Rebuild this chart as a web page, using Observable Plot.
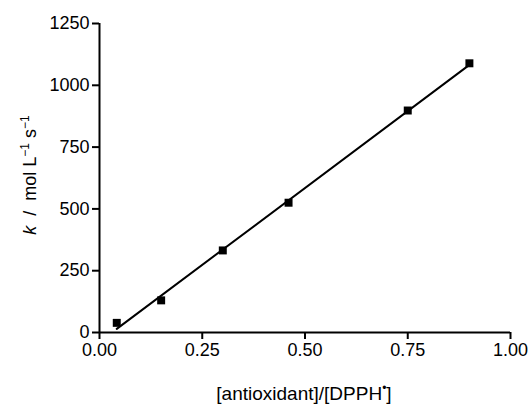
<!DOCTYPE html>
<html>
<head>
<meta charset="utf-8">
<script src="https://cdn.jsdelivr.net/npm/d3@7"></script>
<script src="https://cdn.jsdelivr.net/npm/@observablehq/plot@0.6"></script>
<style>
  html, body { margin: 0; padding: 0; background: #fff; }
  #chart svg { display: block; }
</style>
</head>
<body>
<div id="chart"></div>
<script>
// Data
const ratios = [0.042, 0.15, 0.30, 0.46, 0.75, 0.90];
const kValues = [39, 130, 332, 525, 898, 1089];
const xTicks = [0, 0.25, 0.5, 0.75, 1.0];
const yTicks = [0, 250, 500, 750, 1000, 1250];

const data = ratios.map((r, i) => ({ratio: r, k: kValues[i]}));

const font = "'Liberation Sans', Arial, Helvetica, sans-serif";

const svg = Plot.plot({
  width: 528,
  height: 405,
  marginLeft: 99,
  marginRight: 18,
  marginTop: 23,
  marginBottom: 73,
  style: {fontFamily: font, fontSize: "18px", color: "black", background: "white"},
  x: {domain: [0, 1]},
  y: {domain: [0, 1250]},
  marks: [
    Plot.ruleY([0], {stroke: "black", strokeWidth: 2}),
    Plot.ruleX([0], {stroke: "black", strokeWidth: 2}),
    Plot.axisX({ticks: xTicks, tickFormat: d3.format(".2f"), tickSize: 7, tickPadding: 4, strokeWidth: 2, label: null}),
    Plot.axisY({ticks: yTicks, tickFormat: d => String(d), tickSize: 7, tickPadding: 3, strokeWidth: 2, label: null}),
    Plot.linearRegressionY(data, {x: "ratio", y: "k", ci: 0, stroke: "black", strokeWidth: 2}),
    Plot.dot(data, {x: "ratio", y: "k", symbol: "square", r: 4.5, fill: "black", stroke: null})
  ]
});

document.getElementById("chart").appendChild(svg);

const s = d3.select(svg);

// y-axis label: k / mol L^-1 s^-1
const yl = s.append("text")
  .attr("transform", "translate(36,175) rotate(-90)")
  .attr("text-anchor", "middle")
  .attr("font-family", font)
  .attr("font-size", 18)
  .attr("fill", "black");
yl.append("tspan").attr("font-style", "italic").text("k");
yl.append("tspan").attr("xml:space", "preserve").text("  /  mol L");
yl.append("tspan").attr("font-size", 12).attr("dy", -7).text("\u22121");
yl.append("tspan").attr("dy", 7).text(" s");
yl.append("tspan").attr("font-size", 12).attr("dy", -7).text("\u22121");

// x-axis label: [antioxidant]/[DPPH•]
const xl = s.append("text")
  .attr("x", 304)
  .attr("y", 400)
  .attr("text-anchor", "middle")
  .attr("font-family", font)
  .attr("font-size", 19)
  .attr("fill", "black");
xl.append("tspan").text("[antioxidant]/[DPPH");
xl.append("tspan").attr("font-size", 12).attr("dy", -8).text("\u2022");
xl.append("tspan").attr("dy", 8).text("]");
</script>
</body>
</html>
